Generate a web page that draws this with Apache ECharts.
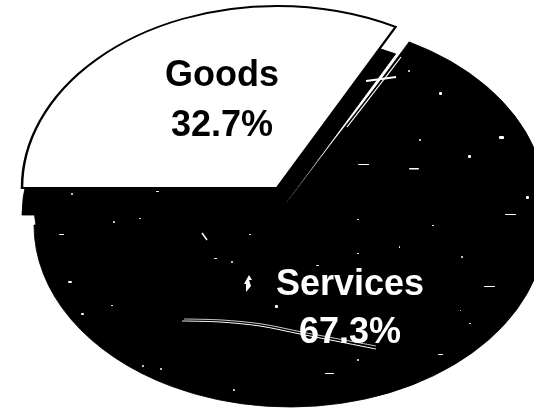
<!DOCTYPE html>
<html>
<head>
<meta charset="utf-8">
<style>html,body{margin:0;padding:0;background:#fff}#c{width:534px;height:408px}</style>
<script src="https://cdn.jsdelivr.net/npm/echarts@6/dist/echarts.min.js"></script>
</head>
<body>
<div id="c"></div>
<script>
// Share of output by sector, percent
const categories = ['Goods', 'Services'];
const shares = [32.7, 67.3];
const shareLabels = ['32.7%', '67.3%'];

// Tilted-disc geometry for each wedge (centre, radii, thickness)
const discs = [
  { cx: 277, cy: 188, rx: 255, ry: 182, depth: 27, face: '#ffffff', stroke: '#000000', ink: '#000000', tx: 222, ty: 101, lh: 50 },
  { cx: 290, cy: 203, rx: 256, ry: 182, depth: 22, face: '#000000', stroke: '#000000', ink: '#ffffff', tx: 350, ty: 309, lh: 48 }
];
const START_ANGLE = Math.PI; // first wedge opens at nine o'clock and runs clockwise

// Print flecks and scuffs on the dark wedge: [x, y, w, h]
const flecks = [
  [439,92,3,3],[408,70,2,2],[419,139,2,2],[468,155,3,3],[499,136,5,3],[358,164,11,1],[409,168,10,1.5],
  [526,196,3,3],[505,214,11,1],[432,225,2,1],[399,246,1,2],[461,256,2,2],[59,234,5,1],[68,281,4,2],
  [81,313,3,2],[275,305,3,3],[484,286,11,1],[469,323,2,1],[438,354,5,1],[357,359,2,2],[325,373,9,1],
  [233,389,2,2],[160,368,2,2],[142,365,2,2],[111,305,2,1],[113,221,2,2],[139,218,2,1],[156,191,3,1],
  [71,193,2,2],[214,258,3,1],[231,261,2,2],[357,253,2,1],[316,265,3,1],[357,219,2,1],[249,234,2,1],[460,310,1,1]
];
// Hairline scuffs: polylines in white
const scuffs = [
  { pts: [[182,321],[220,322],[260,326],[300,334],[376,349]], w: 1 },
  { pts: [[184,319],[222,320],[262,324],[302,332],[376,346]], w: 0.8 },
  { pts: [[366,81],[396,77]], w: 2 },
  { pts: [[202,233],[207,240]], w: 1.5 },
  { pts: [[401,57],[378,87],[347,127]], w: 1.2 }
];
const bolt = [[249,275],[252,280],[249,280],[251,286],[246,292],[246,284],[244,284]];
// Where the wedges close up along their shared edge
const seam = [[412,43],[399,57],[334,140],[277,215],[320,215]];

const total = shares.reduce((a, b) => a + b, 0);

function renderWedge(params, api) {
  const i = params.dataIndex;
  const d = discs[i];
  let before = 0;
  for (let k = 0; k < i; k++) before += shares[k];
  const a0 = START_ANGLE + before / total * Math.PI * 2;
  const a1 = a0 + api.value(0) / total * Math.PI * 2;
  const wedge = (dy, fill, stroke, lw) => ({
    type: 'sector',
    x: d.cx, y: d.cy + dy, scaleY: d.ry / d.rx,
    shape: { cx: 0, cy: 0, r: d.rx, r0: 0, startAngle: a0, endAngle: a1, clockwise: true },
    style: { fill: fill, stroke: stroke, lineWidth: lw, strokeNoScale: true }
  });
  return {
    type: 'group',
    children: [
      wedge(d.depth, '#000000', '#000000', 1),
      wedge(0, d.face, d.stroke, i === 0 ? 2.5 : 1)
    ]
  };
}

const graphics = [
  { type: 'polygon', z: 5, shape: { points: seam }, style: { fill: '#000' } }
];
flecks.forEach(f => graphics.push({ type: 'rect', z: 6, shape: { x: f[0], y: f[1], width: f[2], height: f[3], r: 1 }, style: { fill: '#fff' } }));
scuffs.forEach(s => graphics.push({ type: 'polyline', z: 6, shape: { points: s.pts, smooth: 0.3 }, style: { stroke: '#fff', lineWidth: s.w, fill: null } }));
graphics.push({ type: 'polygon', z: 6, shape: { points: bolt }, style: { fill: '#fff' } });
categories.forEach((name, i) => {
  graphics.push({
    type: 'text', z: 8, x: discs[i].tx, y: discs[i].ty,
    style: {
      text: name + '\n' + shareLabels[i],
      fill: discs[i].ink,
      font: 'bold 36px "Liberation Sans", Arial, sans-serif',
      lineHeight: discs[i].lh,
      align: 'center', verticalAlign: 'middle'
    }
  });
});

const chart = echarts.init(document.getElementById('c'), null, { renderer: 'canvas' });
chart.setOption({
  animation: false,
  backgroundColor: '#ffffff',
  series: [{
    type: 'custom',
    coordinateSystem: 'none',
    renderItem: renderWedge,
    data: shares.map((v, i) => ({ name: categories[i], value: [v] })),
    clip: false,
    z: 1
  }],
  graphic: graphics
});
</script>
</body>
</html>
